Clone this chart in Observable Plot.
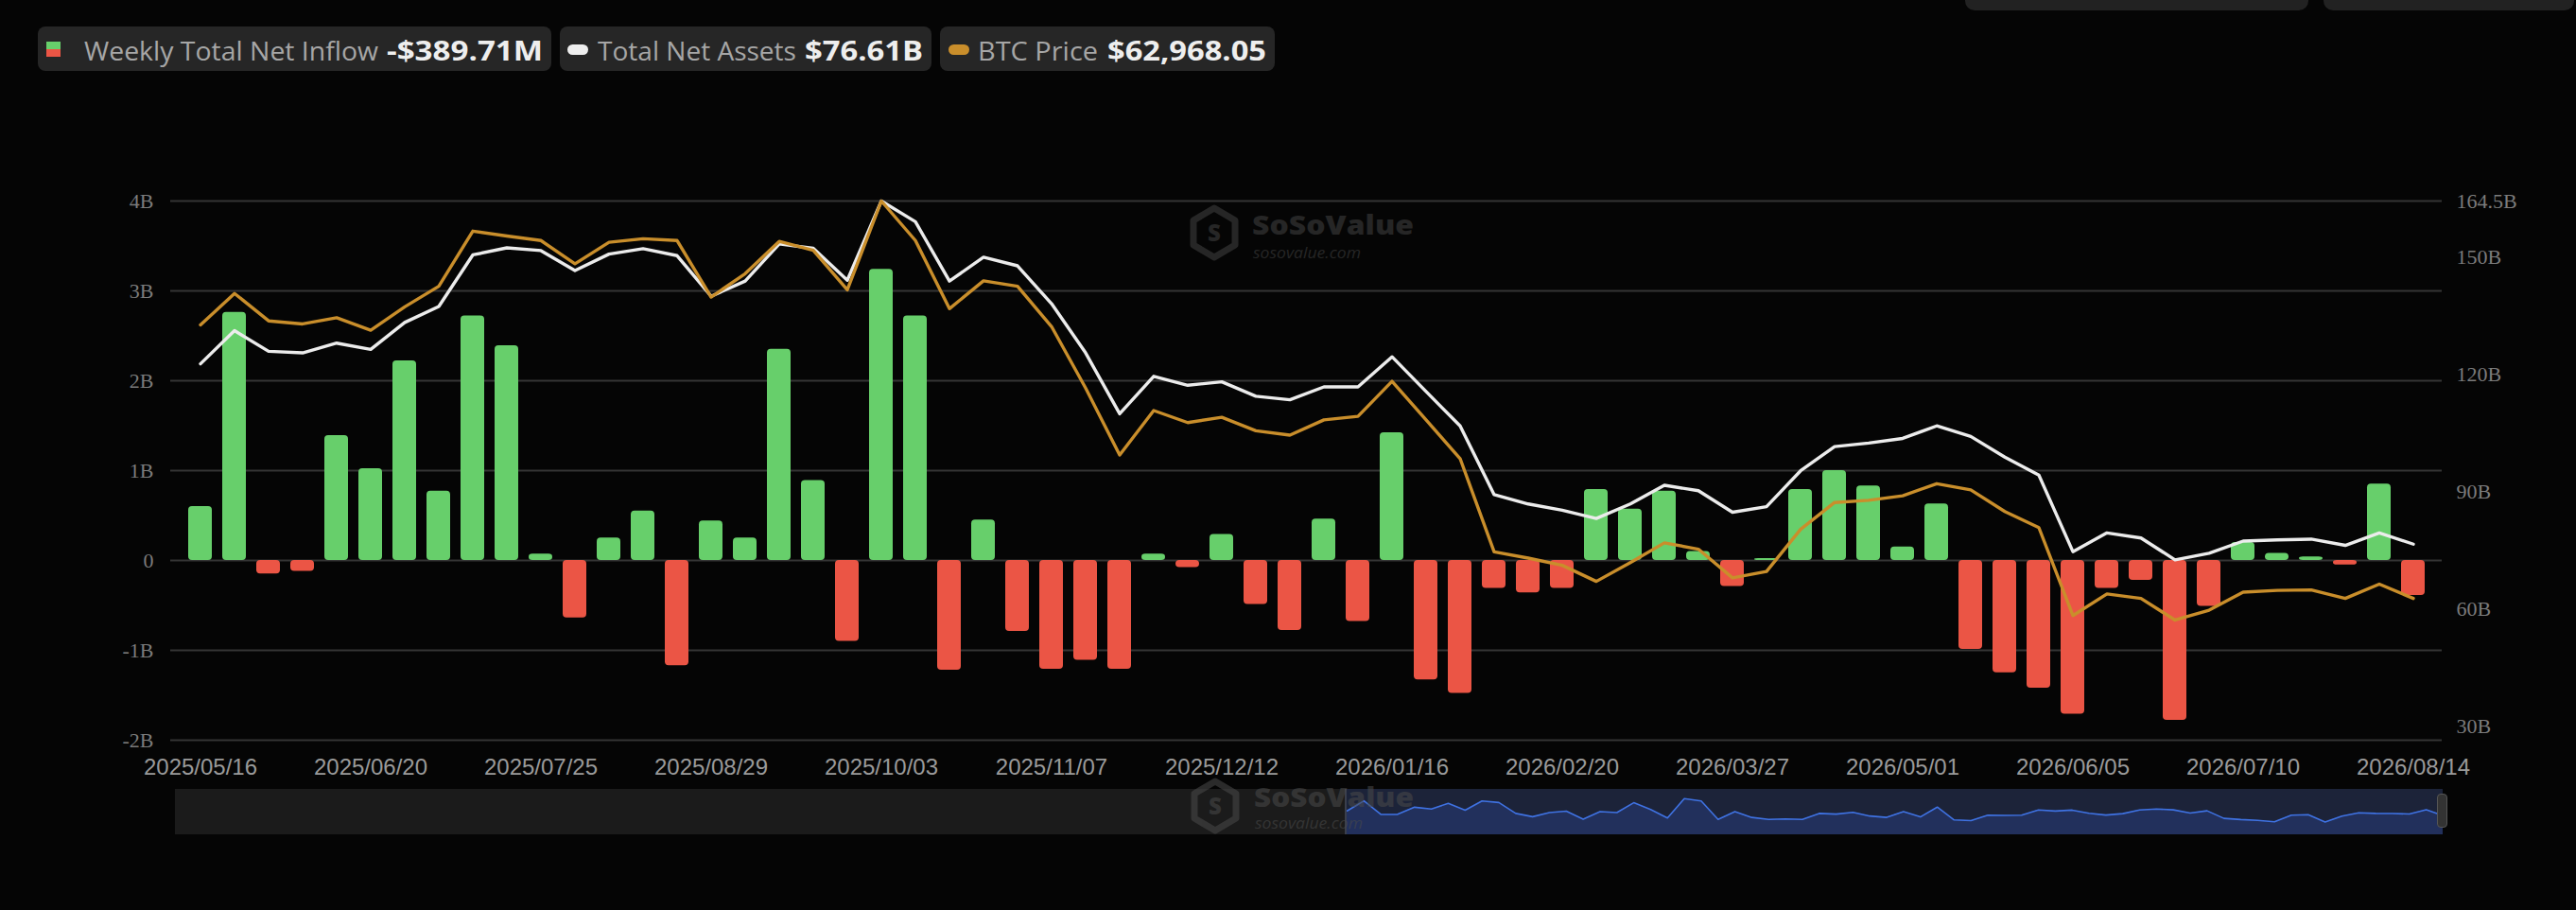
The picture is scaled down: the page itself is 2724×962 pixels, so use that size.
<!DOCTYPE html>
<html>
<head>
<meta charset="utf-8">
<script src="https://cdn.jsdelivr.net/npm/d3@7"></script>
<script src="https://cdn.jsdelivr.net/npm/@observablehq/plot@0.6"></script>
<style>
  html, body { margin: 0; padding: 0; background: #050505; }
  #wrap { position: relative; width: 2724px; height: 962px; overflow: hidden; background: #050505; }
  #legend, #corner, #mark { position: absolute; left: 0; top: 0; }
  #main { position: absolute; left: 0; top: 100px; }
  #slider { position: absolute; left: 0; top: 834px; }
  .sbg { position: absolute; top: 834px; height: 48px; }
</style>
</head>
<body>
<div id="wrap">
  <svg id="corner" width="2724" height="20">
    <rect x="2078" y="-14" width="363" height="25" rx="10" fill="#222"></rect>
    <rect x="2457" y="-14" width="265" height="25" rx="10" fill="#222"></rect>
  </svg>
  <svg id="legend" width="1400" height="100">
    <rect x="40" y="28" width="543" height="47" rx="8" fill="#262626"></rect>
    <rect x="592" y="28" width="393" height="47" rx="8" fill="#262626"></rect>
    <rect x="994" y="28" width="354" height="47" rx="8" fill="#262626"></rect>
    <rect x="49" y="44" width="15" height="8" fill="#67cf6b"></rect>
    <rect x="49" y="52" width="15" height="8" fill="#eb5545"></rect>
    <rect x="600" y="47" width="22" height="11" rx="5.5" fill="#eeeeee"></rect>
    <rect x="1003" y="47" width="22" height="11" rx="5.5" fill="#c98e2b"></rect>
    <g font-family="Open Sans, sans-serif">
      <text x="89" y="64" font-size="27" fill="#a6a6a6" textLength="311" lengthAdjust="spacingAndGlyphs">Weekly Total Net Inflow</text>
      <text id="vFlow" x="409" y="64" font-size="28" font-weight="700" fill="#eeeeee" textLength="165" lengthAdjust="spacingAndGlyphs"></text>
      <text x="632" y="64" font-size="27" fill="#a6a6a6" textLength="210" lengthAdjust="spacingAndGlyphs">Total Net Assets</text>
      <text id="vAssets" x="851" y="64" font-size="28" font-weight="700" fill="#eeeeee" textLength="125" lengthAdjust="spacingAndGlyphs"></text>
      <text x="1034" y="64" font-size="27" fill="#a6a6a6" textLength="127" lengthAdjust="spacingAndGlyphs">BTC Price</text>
      <text id="vBtc" x="1171" y="64" font-size="28" font-weight="700" fill="#eeeeee" textLength="168" lengthAdjust="spacingAndGlyphs"></text>
    </g>
  </svg>
  <div id="main"></div>
  <div class="sbg" style="left:185px;width:1239px;background:#1b1b1b;"></div>
  <div class="sbg" style="left:1424px;width:1159px;background:#1c2339;"></div>
  <div id="slider"></div>
  <div style="position:absolute;left:1422px;top:834px;width:2px;height:48px;background:#3a3f4d;"></div>
  <div style="position:absolute;left:2577px;top:839px;width:11px;height:36px;border-radius:4px;background:#333;border:1px solid #555;box-sizing:border-box;"></div>
  <svg id="mark" width="2724" height="962">
    <g fill="none">
      <path d="M1284,220 L1306,233 L1306,259 L1284,272 L1262,259 L1262,233 Z" stroke="#262626" stroke-width="7" stroke-linejoin="round"></path>
      <text x="1284" y="255" text-anchor="middle" font-family="Open Sans, sans-serif" font-weight="800" font-size="24" fill="#262626">S</text>
      <text x="1324" y="248" font-family="Open Sans, sans-serif" font-weight="800" font-size="28" fill="#262626" textLength="171" lengthAdjust="spacingAndGlyphs">SoSoValue</text>
      <text x="1325" y="273" font-family="Open Sans, sans-serif" font-style="italic" font-size="16" fill="#262626" textLength="114" lengthAdjust="spacingAndGlyphs">sosovalue.com</text>
    </g>
    <g fill="none" opacity="0.55">
      <path d="M1285,826 L1307,839 L1307,865 L1285,878 L1263,865 L1263,839 Z" stroke="#4a4a4a" stroke-width="7" stroke-linejoin="round"></path>
      <text x="1285" y="861" text-anchor="middle" font-family="Open Sans, sans-serif" font-weight="800" font-size="24" fill="#4a4a4a">S</text>
      <text x="1326" y="853" font-family="Open Sans, sans-serif" font-weight="800" font-size="28" fill="#4a4a4a" textLength="169" lengthAdjust="spacingAndGlyphs">SoSoValue</text>
      <text x="1327" y="876" font-family="Open Sans, sans-serif" font-style="italic" font-size="16" fill="#4a4a4a" textLength="114" lengthAdjust="spacingAndGlyphs">sosovalue.com</text>
    </g>
  </svg>
</div>
<script>
// ---- Data (weekly, Fridays) ----
const dates = [
  "2025/05/16","2025/05/23","2025/05/30","2025/06/06","2025/06/13","2025/06/20","2025/06/27","2025/07/04","2025/07/11","2025/07/18",
  "2025/07/25","2025/08/01","2025/08/08","2025/08/15","2025/08/22","2025/08/29","2025/09/05","2025/09/12","2025/09/19","2025/09/26",
  "2025/10/03","2025/10/10","2025/10/17","2025/10/24","2025/10/31","2025/11/07","2025/11/14","2025/11/21","2025/11/28","2025/12/05",
  "2025/12/12","2025/12/19","2025/12/26","2026/01/02","2026/01/09","2026/01/16","2026/01/23","2026/01/30","2026/02/06","2026/02/13",
  "2026/02/20","2026/02/27","2026/03/06","2026/03/13","2026/03/20","2026/03/27","2026/04/03","2026/04/10","2026/04/17","2026/04/24",
  "2026/05/01","2026/05/08","2026/05/15","2026/05/22","2026/05/29","2026/06/05","2026/06/12","2026/06/19","2026/06/26","2026/07/03",
  "2026/07/10","2026/07/17","2026/07/24","2026/07/31","2026/08/07","2026/08/14"
];
// Weekly total net inflow, billions USD
const netInflow = [
  0.60, 2.76, -0.15, -0.12, 1.39, 1.02, 2.22, 0.77, 2.72, 2.39,
  0.07, -0.64, 0.25, 0.55, -1.17, 0.44, 0.25, 2.35, 0.89, -0.90,
  3.24, 2.72, -1.22, 0.45, -0.79, -1.21, -1.11, -1.21, 0.07, -0.08,
  0.29, -0.49, -0.78, 0.46, -0.68, 1.42, -1.33, -1.48, -0.31, -0.36,
  -0.31, 0.79, 0.57, 0.77, 0.10, -0.29, 0.02, 0.79, 1.00, 0.83,
  0.15, 0.63, -0.99, -1.25, -1.42, -1.71, -0.31, -0.22, -1.78, -0.51,
  0.20, 0.08, 0.04, -0.05, 0.85, -0.38971
];
// Total net assets, billions USD
const totalNetAssets = [
  122.8, 131.3, 126.0, 125.6, 128.1, 126.5, 133.4, 137.5, 150.7, 152.5,
  151.8, 146.7, 150.9, 152.3, 150.5, 140.1, 144.0, 153.5, 152.4, 144.2,
  164.5, 159.2, 144.0, 150.1, 147.9, 138.2, 125.6, 110.0, 119.6, 117.3,
  118.2, 114.5, 113.6, 116.9, 116.9, 124.6, 115.7, 106.9, 89.3, 86.9,
  85.3, 83.2, 86.9, 91.7, 90.3, 84.8, 86.2, 95.4, 101.6, 102.5,
  103.7, 106.9, 104.2, 98.9, 94.3, 74.7, 79.5, 78.2, 72.6, 74.3,
  77.4, 77.7, 77.9, 76.3, 79.5, 76.61
];
// BTC price, USD
const btcPrice = [
  103700, 108380, 104300, 103840, 104770, 102900, 106380, 109450, 117660, 116930,
  116260, 112790, 115990, 116530, 116260, 107840, 111320, 116130, 114790, 108910,
  122140, 116260, 106110, 110250, 109450, 103440, 94290, 84340, 90950, 89150,
  89950, 87940, 87280, 89550, 90080, 95290, 89550, 83800, 69910, 68980,
  67910, 65510, 68310, 71250, 70310, 66040, 66980, 73250, 77260, 77590,
  78260, 80060, 79130, 75920, 73520, 60430, 63640, 62970, 59760, 61230,
  63900, 64170, 64240, 62970, 65110, 62968.05
];
const leftTicks = [-2, -1, 0, 1, 2, 3, 4];
const leftTickLabels = ["-2B", "-1B", "0", "1B", "2B", "3B", "4B"];
const rightTicks = [30, 60, 90, 120, 150, 164.5];
const rightTickLabels = ["30B", "60B", "90B", "120B", "150B", "164.5B"];
const xTickDates = dates.filter((d, i) => i % 5 === 0);

// ---- Scales for secondary axes (mapped onto the primary y) ----
const Y_MIN = -2, Y_MAX = 4;
const R_MIN = 26.4, R_MAX = d3.max(totalNetAssets);
const B_MIN = 41870, B_MAX = d3.max(btcPrice);
const toLeft = (v, lo, hi) => Y_MIN + (v - lo) / (hi - lo) * (Y_MAX - Y_MIN);

const rows = dates.map((d, i) => ({date: d, flow: netInflow[i], assets: totalNetAssets[i], btc: btcPrice[i]}));
const leftMap = new Map(leftTicks.map((t, i) => [t, leftTickLabels[i]]));
const rightPos = rightTicks.map(r => toLeft(r, R_MIN, R_MAX));
const rightMap = new Map(rightPos.map((p, i) => [p, rightTickLabels[i]]));

const GREEN = "#67cf6b", RED = "#eb5545", WHITE = "#ececec", GOLD = "#c98e2b";

// ---- Legend values ----
const lastFlow = netInflow[netInflow.length - 1];
document.getElementById("vFlow").textContent = (lastFlow < 0 ? "-" : "") + "$" + d3.format(".2f")(Math.abs(lastFlow) * 1000) + "M";
document.getElementById("vAssets").textContent = "$" + d3.format(".2f")(totalNetAssets[totalNetAssets.length - 1]) + "B";
document.getElementById("vBtc").textContent = "$" + d3.format(",.2f")(btcPrice[btcPrice.length - 1]);

// ---- Main chart ----
const chart = Plot.plot({
  width: 2724,
  height: 862,
  marginLeft: 180,
  marginRight: 142,
  marginTop: 112,
  marginBottom: 180,
  style: {background: "transparent", overflow: "visible", fontFamily: "Liberation Sans, sans-serif"},
  x: {type: "band", domain: dates, paddingInner: 0.31, paddingOuter: 0.155, align: 0.5, axis: null, label: null},
  y: {domain: [Y_MIN, Y_MAX], axis: null, label: null},
  marks: [
    Plot.gridY(leftTicks, {stroke: "#353535", strokeOpacity: 1, strokeWidth: 2}),
    Plot.axisY(leftTicks, {anchor: "left", label: null, tickSize: 0, tickPadding: 18, tickFormat: d => leftMap.get(d),
      fontFamily: "Liberation Serif, serif", fontSize: 22, color: "#7b7b7b"}),
    Plot.axisY(rightPos, {anchor: "right", label: null, tickSize: 0, tickPadding: 15, tickFormat: d => rightMap.get(d),
      fontFamily: "Liberation Serif, serif", fontSize: 22, color: "#7b7b7b"}),
    Plot.axisX(xTickDates, {anchor: "bottom", label: null, tickSize: 0, tickPadding: 19,
      fontFamily: "Liberation Sans, sans-serif", fontSize: 24, color: "#9a9a9a"}),
    Plot.barY(rows.filter(d => d.flow >= 0), {x: "date", y: "flow", fill: GREEN, rx: 4}),
    Plot.barY(rows.filter(d => d.flow < 0), {x: "date", y: "flow", fill: RED, rx: 4}),
    Plot.line(rows, {x: "date", y: d => toLeft(d.assets, R_MIN, R_MAX), stroke: WHITE, strokeWidth: 3.4}),
    Plot.line(rows, {x: "date", y: d => toLeft(d.btc, B_MIN, B_MAX), stroke: GOLD, strokeWidth: 3.4})
  ]
});
document.getElementById("main").appendChild(chart);

// ---- Overview slider (selected window) ----
const slider = Plot.plot({
  width: 2724,
  height: 48,
  marginLeft: 1424,
  marginRight: 141,
  marginTop: 0,
  marginBottom: 0,
  style: {background: "transparent", overflow: "visible"},
  x: {type: "point", domain: dates, padding: 0, axis: null, label: null},
  y: {domain: [-4.5, 5.2], axis: null, label: null},
  marks: [
    Plot.areaY(rows, {x: "date", y1: -4.5, y2: "flow", fill: "#22305c"}),
    Plot.line(rows, {x: "date", y: "flow", stroke: "#3f72e2", strokeWidth: 1.6})
  ]
});
document.getElementById("slider").appendChild(slider);
</script>
</body>
</html>
